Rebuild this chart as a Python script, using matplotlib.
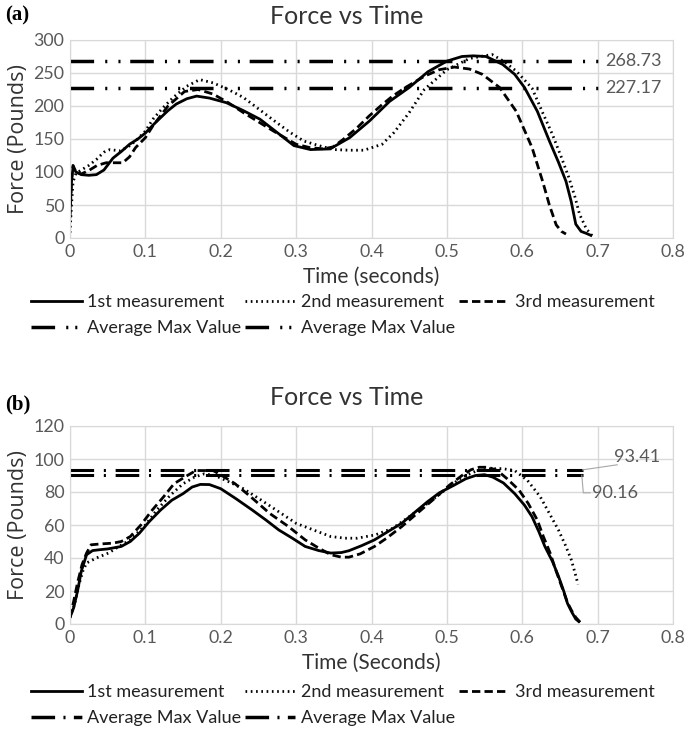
import numpy as np
import matplotlib
matplotlib.use("Agg")
import matplotlib.pyplot as plt
from matplotlib.lines import Line2D

plt.rcParams["font.family"] = ["Lato", "DejaVu Sans"]
plt.rcParams["lines.scale_dashes"] = False

# ---- panel (a) data ----
a_t1 = [0, 0.002, 0.004, 0.008, 0.015, 0.025, 0.035, 0.045, 0.057, 0.068, 0.079, 0.09, 0.1, 0.11,
        0.119, 0.13, 0.141, 0.155, 0.168, 0.185, 0.2075, 0.23, 0.252, 0.278, 0.297, 0.319, 0.345,
        0.371, 0.397, 0.424, 0.45, 0.475, 0.5, 0.52, 0.535, 0.552, 0.574, 0.59, 0.603, 0.62, 0.636,
        0.648, 0.658, 0.665, 0.671, 0.678, 0.685, 0.691]
a_f1 = [40, 85, 107, 100, 96, 95, 96, 103, 121, 131, 142, 150, 159, 171,
        181, 193, 203, 211, 215, 212, 205, 193, 180, 157, 140, 134, 135,
        152, 177, 207, 228, 252, 268, 275, 276, 275, 263, 248, 228, 192, 147,
        115, 86, 55, 21, 10, 7, 4]

a_t2 = [0, 0.002, 0.004, 0.008, 0.015, 0.025, 0.035, 0.045, 0.053, 0.066, 0.077, 0.087, 0.1, 0.11,
        0.123, 0.137, 0.155, 0.172, 0.19, 0.21, 0.23, 0.252, 0.274, 0.292, 0.31, 0.33, 0.35, 0.37,
        0.39, 0.414, 0.43, 0.45, 0.47, 0.5, 0.53, 0.56, 0.575, 0.592, 0.613, 0.627, 0.64, 0.652,
        0.662, 0.67, 0.676, 0.685, 0.693]
a_f2 = [8, 50, 85, 98, 103, 110, 119, 130, 134, 132, 138, 147, 162, 180,
        197, 213, 230, 240, 235, 225, 213, 194, 175, 160, 147, 140, 134, 133,
        133, 142, 160, 190, 225, 255, 272, 278, 268, 253, 227, 190, 157, 122,
        91, 62, 36, 14, 3]

a_t3 = [0, 0.002, 0.004, 0.008, 0.015, 0.026, 0.036, 0.048, 0.06, 0.07, 0.079, 0.087, 0.1, 0.11,
        0.13, 0.152, 0.17, 0.19, 0.21, 0.23, 0.25, 0.27, 0.285, 0.3, 0.318, 0.336, 0.349, 0.362,
        0.38, 0.397, 0.413, 0.428, 0.445, 0.47, 0.49, 0.51, 0.53, 0.547, 0.57, 0.592, 0.613, 0.627,
        0.636, 0.645, 0.652, 0.658]
a_f3 = [30, 90, 110, 100, 97, 103, 110, 114, 114, 114, 123, 137, 152, 170,
        200, 222, 225, 218, 205, 190, 176, 162, 152, 142, 137, 135, 138, 149,
        166, 185, 201, 215, 228, 245, 255, 259, 256, 248, 228, 192, 137, 86,
        50, 20, 10, 6]

a_avg = [268.73, 227.17]

# ---- panel (b) data ----
b_t1 = [0, 0.005, 0.01, 0.015, 0.022, 0.03, 0.039, 0.05, 0.068, 0.08, 0.092, 0.105, 0.12, 0.135,
        0.15, 0.162, 0.173, 0.185, 0.2, 0.22, 0.242, 0.26, 0.277, 0.295, 0.312, 0.33, 0.346,
        0.36, 0.37, 0.387, 0.404, 0.42, 0.44, 0.457, 0.474, 0.49, 0.509, 0.525, 0.538, 0.55, 0.561,
        0.575, 0.59, 0.603, 0.613, 0.622, 0.63, 0.64, 0.648, 0.655, 0.66, 0.666, 0.671, 0.675]
b_f1 = [4, 10, 20, 32, 42, 44.5, 45, 45.5, 47, 50, 55, 62, 69, 75,
        79, 83, 84.6, 84.5, 82, 76, 69, 63, 57, 52, 47, 44.5, 43,
        43.3, 44.4, 47.5, 51, 55.5, 61, 67.5, 74, 79.5, 84, 88, 90, 90.5, 89,
        85.5, 79, 72, 65, 56, 47, 38, 29, 20, 12.5, 7, 3, 1.5]

b_t2 = [0, 0.006, 0.012, 0.017, 0.022, 0.035, 0.051, 0.065, 0.08, 0.1, 0.115, 0.133, 0.15, 0.165,
        0.178, 0.192, 0.207, 0.23, 0.254, 0.277, 0.3, 0.323, 0.346, 0.365, 0.381, 0.405, 0.428,
        0.45, 0.474, 0.497, 0.52, 0.538, 0.555, 0.573, 0.59, 0.607, 0.624, 0.636, 0.648, 0.657,
        0.665, 0.67, 0.674]
b_f2 = [4, 12, 24, 32, 37, 40, 43, 47, 51, 60, 69, 78, 85, 89,
        91, 90, 87, 82, 75, 68, 61, 57, 53, 52, 52, 54, 58,
        65, 73, 81, 89, 92.5, 94, 94.2, 93, 87, 77, 67, 57, 48,
        39, 31, 24]

b_t3 = [0, 0.005, 0.01, 0.016, 0.022, 0.028, 0.04, 0.057, 0.068, 0.08, 0.094, 0.109, 0.124, 0.138,
        0.152, 0.167, 0.19, 0.205, 0.219, 0.24, 0.265, 0.29, 0.312, 0.33, 0.346, 0.36, 0.37, 0.385,
        0.404, 0.42, 0.44, 0.463, 0.486, 0.503, 0.52, 0.532, 0.543, 0.555, 0.567, 0.58, 0.596,
        0.608, 0.62, 0.628, 0.637, 0.645, 0.654, 0.66, 0.665, 0.671, 0.677]
b_f3 = [4, 14, 25, 36, 43, 48, 48.5, 49, 50, 53, 60, 69, 77, 85,
        89, 93, 93, 89, 85, 77, 67, 59, 51, 46, 42, 40.5, 40.5, 42.5,
        47, 52, 59, 68, 77, 84, 90, 93.5, 95, 95, 93, 88, 81,
        73, 63, 53, 43, 32, 20.6, 13, 8.5, 4, 1]

b_avg = [93.41, 90.16]

labels = ["1st measurement", "2nd measurement", "3rd measurement",
          "Average Max Value", "Average Max Value"]

GRAY = "#595959"
GRID = "#d9d9d9"
solid_kw = dict(color="black", lw=2.0, ls="-")
dot_kw = dict(color="black", lw=2.0, ls=(0, (1.2, 2.6)))
dash_kw = dict(color="black", lw=2.0, ls=(0, (6, 3)))
avg_a_ls = (0, (17, 8, 1.5, 8, 1.5, 7))
avg_b_ls = (0, (17, 7, 1.5, 7))

fig = plt.figure(figsize=(6.86, 7.52), dpi=100)
ax_a = fig.add_axes([70 / 686, 1 - 238 / 752, 603 / 686, 198 / 752])
ax_b = fig.add_axes([70 / 686, 1 - 624 / 752, 603 / 686, 198 / 752])


def style_axes(ax, ymax, ystep):
    ax.set_xlim(0, 0.8)
    ax.set_ylim(0, ymax)
    ax.set_xticks(np.arange(0, 0.81, 0.1))
    ax.set_xticklabels(["0", "0.1", "0.2", "0.3", "0.4", "0.5", "0.6", "0.7", "0.8"])
    ax.set_yticks(np.arange(0, ymax + 1, ystep))
    ax.grid(True, color=GRID, lw=1.0)
    ax.set_axisbelow(True)
    for s in ax.spines.values():
        s.set_color(GRID)
    ax.tick_params(length=0, labelsize=12.8, colors=GRAY, pad=4)


# panel (a)
ax_a.plot(a_t1, a_f1, **solid_kw)
ax_a.plot(a_t2, a_f2, **dot_kw)
ax_a.plot(a_t3, a_f3, **dash_kw)
for v in a_avg:
    ax_a.plot([0, 0.7], [v, v], color="black", lw=2.5, ls=avg_a_ls)
    ax_a.text(0.748, v, f"{v:.2f}", ha="center", va="center", fontsize=13, color=GRAY)
style_axes(ax_a, 300, 50)
ax_a.set_xlabel("Time (seconds)", fontsize=15, color="#333333", labelpad=5)
ax_a.set_ylabel("Force (Pounds)", fontsize=15.5, color="#333333", labelpad=3,
                family=["Open Sans", "DejaVu Sans"])

# panel (b)
ax_b.plot(b_t1, b_f1, **solid_kw)
ax_b.plot(b_t2, b_f2, **dot_kw)
ax_b.plot(b_t3, b_f3, **dash_kw)
for v in b_avg:
    ax_b.plot([0, 0.68], [v, v], color="black", lw=2.2, ls=avg_b_ls)
ax_b.plot([0.68, 0.726], [b_avg[0], 96.5], color="#a6a6a6", lw=0.8)
ax_b.text(0.722, 101.5, f"{b_avg[0]:.2f}", ha="left", va="center", fontsize=13, color=GRAY)
ax_b.plot([0.679, 0.681, 0.69], [b_avg[1], 79.5, 79.5], color="#a6a6a6", lw=0.8)
ax_b.text(0.692, 79.5, f"{b_avg[1]:.2f}", ha="left", va="center", fontsize=13, color=GRAY)
style_axes(ax_b, 120, 20)
ax_b.set_xlabel("Time (Seconds)", fontsize=15, color="#333333", labelpad=5)
ax_b.set_ylabel("Force (Pounds)", fontsize=15.5, color="#333333", labelpad=3,
                family=["Open Sans", "DejaVu Sans"])

# titles and panel tags
fig.text(0.505, 1 - 16 / 752, "Force vs Time", ha="center", va="center", fontsize=18, color="#333333")
fig.text(0.505, 1 - 397 / 752, "Force vs Time", ha="center", va="center", fontsize=18, color="#333333")
fig.text(0.008, 1 - 15 / 752, "(a)", ha="left", va="center", fontsize=15, fontweight="bold",
         family="Liberation Serif")
fig.text(0.008, 1 - 404 / 752, "(b)", ha="left", va="center", fontsize=15, fontweight="bold",
         family="Liberation Serif")


def make_legend(avg_ls, y_top):
    h = [Line2D([], [], **solid_kw), Line2D([], [], color="black", lw=2.5, ls=avg_ls),
         Line2D([], [], **dot_kw), Line2D([], [], color="black", lw=2.5, ls=avg_ls),
         Line2D([], [], **dash_kw)]
    lab = [labels[0], labels[3], labels[1], labels[4], labels[2]]
    fig.legend(h, lab, ncol=3, loc="upper left", bbox_to_anchor=(24 / 686, 1 - y_top / 752),
               frameon=False, fontsize=13, handlelength=2.8, handletextpad=0.3,
               columnspacing=0.2, labelspacing=0.55, labelcolor="#222222",
               borderaxespad=0.0)


make_legend((0, (17, 8, 1.5, 5, 1.5, 5)), 287)
make_legend((0, (17, 6, 1.5, 6, 6, 0.1)), 677)

fig.savefig("out.png", dpi=100)
